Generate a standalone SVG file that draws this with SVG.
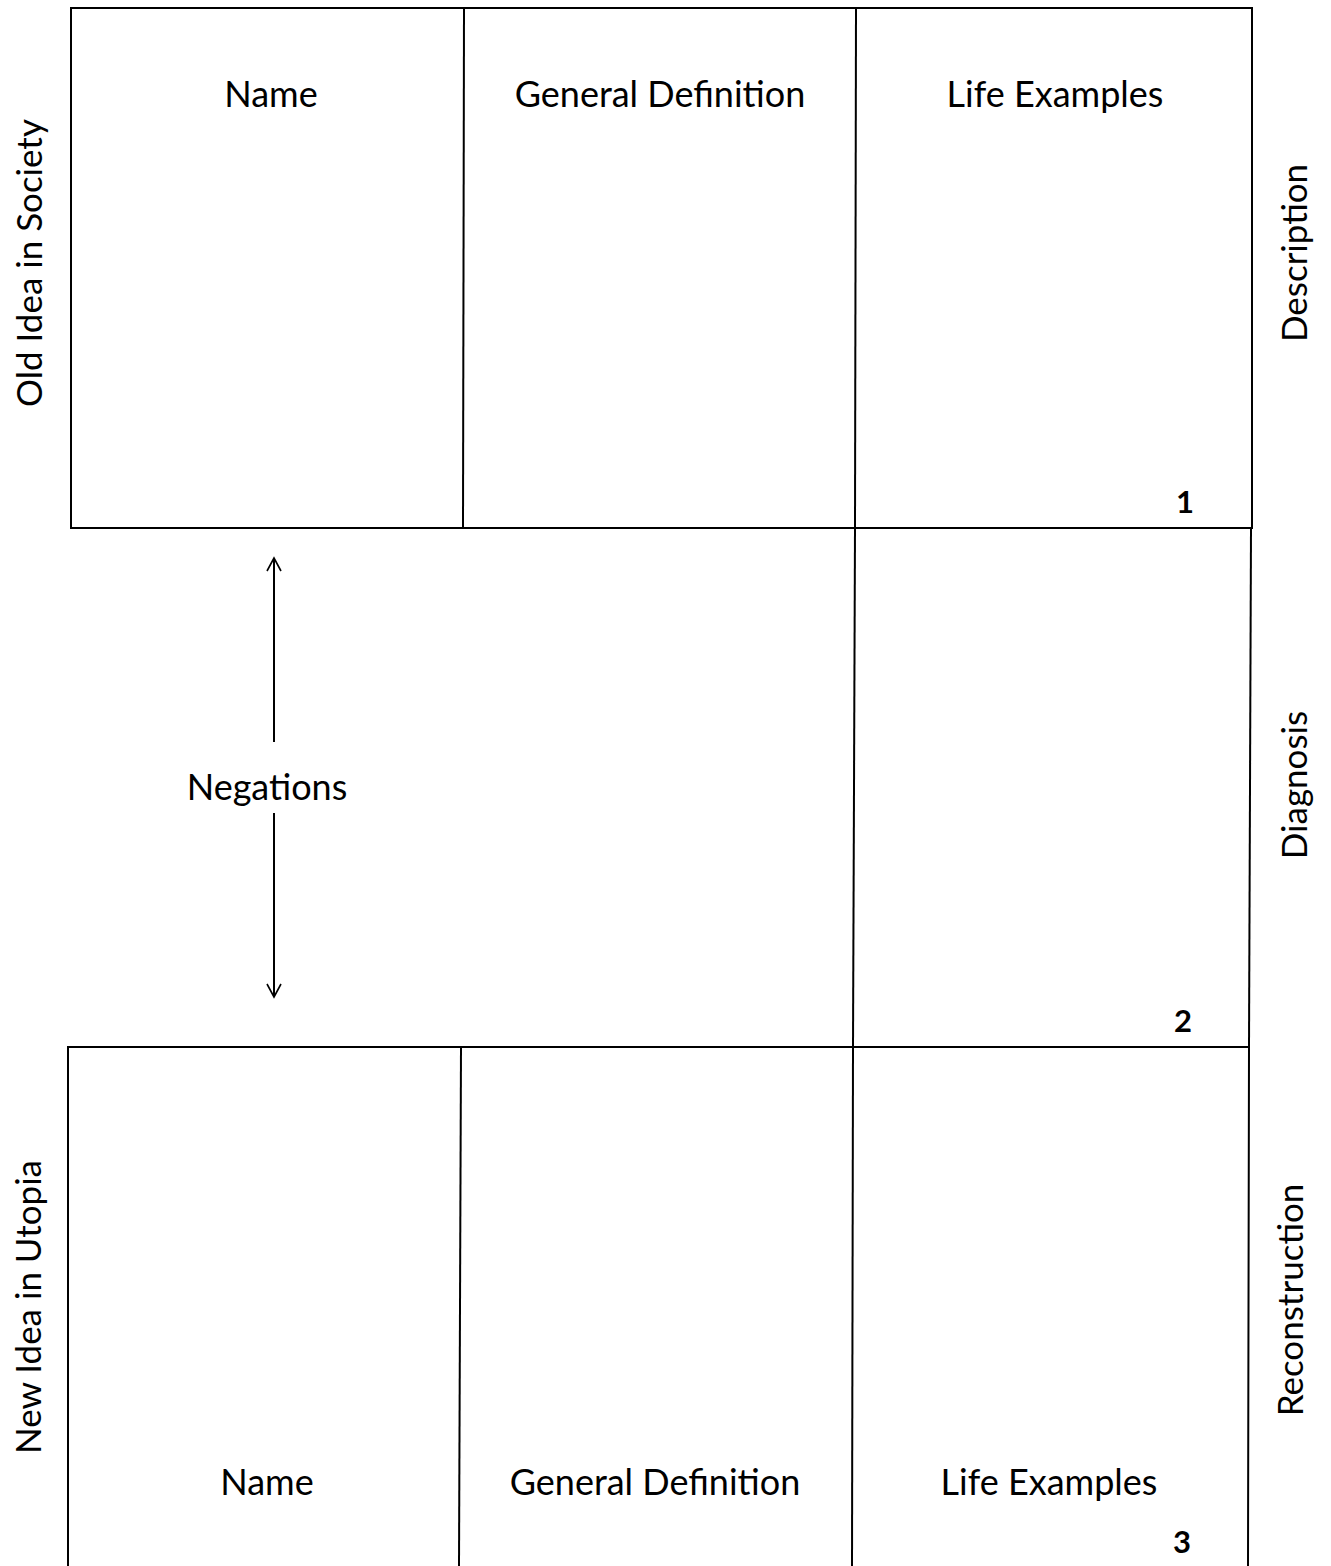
<svg xmlns="http://www.w3.org/2000/svg" width="1331" height="1566" viewBox="0 0 1331 1566">
<defs>
<style>
.ln{stroke:#000;stroke-width:2;fill:none}
.t{font-family:Lato,"Open Sans","Liberation Sans",sans-serif;font-size:36px;fill:#000;text-anchor:middle}
.v{font-size:35px}
.n{font-family:Lato,"Liberation Sans",sans-serif;font-size:31px;font-weight:bold;fill:#000;text-anchor:middle}
</style>
<marker id="ah" viewBox="0 0 16 16" refX="14" refY="8" markerWidth="16" markerHeight="16" markerUnits="userSpaceOnUse" orient="auto-start-reverse">
<path d="M1,1 L14,8 L1,15" fill="none" stroke="#000" stroke-width="1.6"/>
</marker>
</defs>
<rect width="1331" height="1566" fill="#fff"/>
<g id="row1">
<rect class="ln" x="71" y="8" width="1181" height="520"/>
<line class="ln" x1="464" y1="8" x2="463" y2="528"/>
<line class="ln" x1="856" y1="8" x2="855" y2="528"/>
<text class="t" x="271" y="107">Name</text>
<text class="t" x="660" y="107">General Definition</text>
<text class="t" x="1055" y="107">Life Examples</text>
<text class="n" x="1185" y="513">1</text>
</g>
<g id="row2">
<line class="ln" x1="855" y1="528" x2="853" y2="1047"/>
<line class="ln" x1="1251" y1="528" x2="1249" y2="1047"/>
<text class="t" x="267" y="800">Negations</text>
<text class="n" x="1183" y="1032">2</text>
</g>
<g id="row3">
<path class="ln" d="M68,1566 L68,1047 L1249,1047 L1248,1566"/>
<line class="ln" x1="461" y1="1047" x2="459" y2="1566"/>
<line class="ln" x1="853" y1="1047" x2="852" y2="1566"/>
<text class="t" x="267" y="1495">Name</text>
<text class="t" x="655" y="1495">General Definition</text>
<text class="t" x="1049" y="1495">Life Examples</text>
<text class="n" x="1182" y="1553">3</text>
</g>
<g id="side-labels">
<text class="t v" transform="translate(42,263) rotate(-90)">Old Idea in Society</text>
<text class="t v" transform="translate(41,1307) rotate(-90)">New Idea in Utopia</text>
<text class="t v" transform="translate(1307,253) rotate(-90)">Description</text>
<text class="t v" transform="translate(1307,785) rotate(-90)">Diagnosis</text>
<text class="t v" transform="translate(1303,1300) rotate(-90)">Reconstruction</text>
</g>
<g id="connectors">
<line class="ln" x1="274" y1="742" x2="274" y2="558" stroke-width="1.5" marker-end="url(#ah)"/>
<line class="ln" x1="274" y1="813" x2="274" y2="997" stroke-width="1.5" marker-end="url(#ah)"/>
</g>
</svg>
